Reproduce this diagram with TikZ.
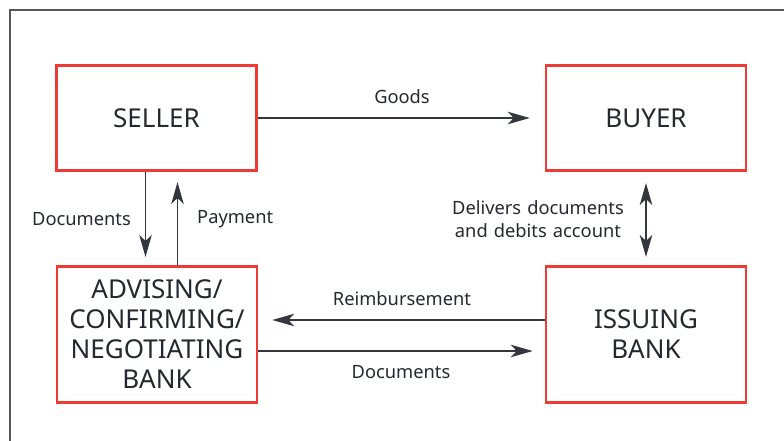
\documentclass[tikz,border=0pt]{standalone}
\usepackage{fontspec}
\setmainfont{Noto Sans}
\usetikzlibrary{arrows.meta}
\definecolor{boxred}{HTML}{EE3B33}
\definecolor{ink}{HTML}{25282E}
\definecolor{lineink}{HTML}{33363D}
\definecolor{framegrey}{HTML}{55585E}
\begin{document}
\begin{tikzpicture}[x=1pt,y=-1pt,
  party/.style={draw=boxred,line width=2.6pt,minimum width=200pt,text=ink,font=\fontsize{26}{30}\selectfont,align=center,inner sep=0pt},
  conn/.style={draw=lineink,line width=1.5pt,-{Stealth[length=22pt,width=12.5pt,inset=6pt]}},
  conn2/.style={draw=lineink,line width=1.5pt,{Stealth[length=22pt,width=12.5pt,inset=6pt]}-{Stealth[length=22pt,width=12.5pt,inset=6pt]}},
  lbl/.style={text=ink,font=\fontsize{18.3}{23}\selectfont,align=center,inner sep=0pt}]
\useasboundingbox (0,0) rectangle (784,441);
\draw[framegrey,line width=1.2pt] (10,460) -- (10,10) -- (800,10);
\node[party,minimum height=105.5pt] (seller) at (156.5,118) {SELLER};
\node[party,minimum height=105.5pt] (buyer) at (646,118) {BUYER};
\node[party,minimum height=136.5pt] (adv) at (157,334.5) {ADVISING/\\CONFIRMING/\\NEGOTIATING\\BANK};
\node[party,minimum height=136.5pt] (iss) at (646,334.5) {ISSUING\\BANK};
% Goods
\draw[conn,shorten >=15pt] (seller.east) -- (buyer.west);
\node[lbl] (goods) at (402,97) {Goods};
% Documents down / Payment up
\draw[conn,shorten >=8pt] ([xshift=-11pt]seller.south) -- ([xshift=-11pt]seller.south |- adv.north);
\draw[conn,shorten >=10pt] ([xshift=21pt]seller.south |- adv.north) -- ([xshift=21pt]seller.south);
\node[lbl,anchor=east] (docs1) at (131,219) {Documents};
\node[lbl,anchor=west] (pay) at (197,219) {Payment};
% Delivers
\draw[conn2,shorten <=11pt,shorten >=8pt] (buyer.south) -- (iss.north);
\node[lbl,text width=180pt] (deliv) at (538,219) {Delivers documents\\and debits account};
% Reimbursement and Documents
\draw[conn,shorten >=14pt] (iss.west |- 0,320) -- (adv.east |- 0,320);
\node[lbl] (reimb) at (402,299) {Reimbursement};
\draw[conn,shorten >=12pt] (adv.east |- 0,351) -- (iss.west |- 0,351);
\node[lbl] (docs2) at (401,372) {Documents};
\end{tikzpicture}
\end{document}
